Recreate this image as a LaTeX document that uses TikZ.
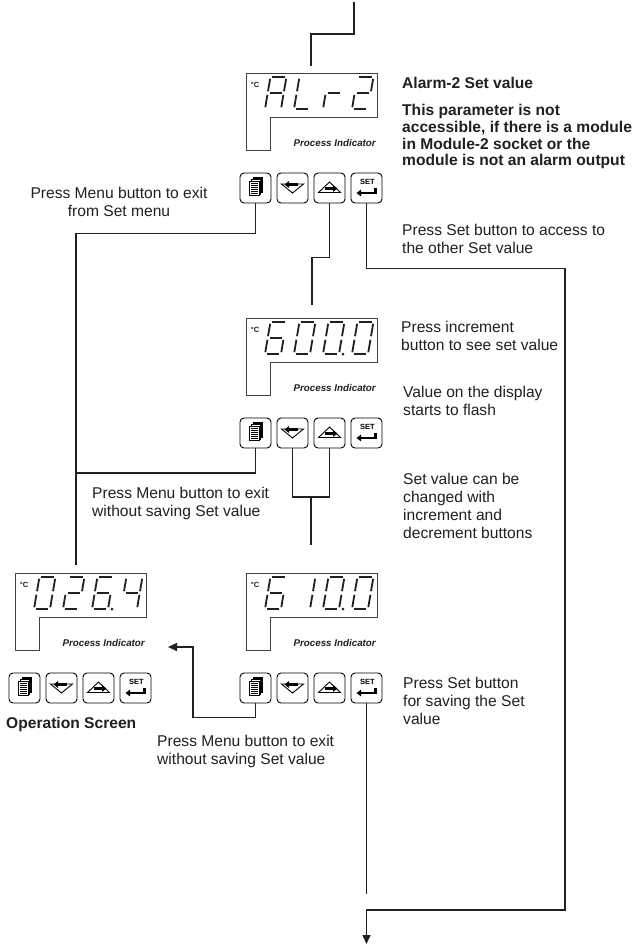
\documentclass[tikz,border=0pt]{standalone}
\usepackage{fontspec}
\setmainfont{Liberation Sans}
\usetikzlibrary{arrows.meta,calc}
\definecolor{ink}{HTML}{231F20}

\tikzset{
  conn/.style={draw=ink, line width=1.5pt},
  arr/.style={conn, -{Triangle[length=9pt,width=8pt]}},
  btn/.style={draw=black, line width=0.9pt, rounded corners=4pt, minimum width=31pt, minimum height=30pt, inner sep=0pt},
  dispbox/.style={inner sep=0pt, minimum width=131pt, minimum height=77pt},
  displine/.style={draw=ink!85, line width=0.9pt},
  segline/.style={draw=ink, line width=1.8pt},
  txt/.style={text=ink, font=\fontsize{15.6}{18}\selectfont, inner sep=0pt, align=left, anchor=north west},
  btxt/.style={txt, font=\fontsize{15.6}{16.8}\selectfont\bfseries},
  settxt/.style={text=black, font=\fontsize{7.5}{7.5}\selectfont\bfseries, inner sep=0pt},
  pitxt/.style={text=ink, font=\fontsize{9.8}{10}\selectfont\bfseries\itshape, inner sep=0pt, anchor=east},
  degtxt/.style={text=ink, font=\fontsize{7.5}{7.5}\selectfont\bfseries, inner sep=0pt},
  iconarrow/.style={draw=black, line width=2.4pt, -{Triangle[length=4.5pt,width=6.5pt]}},
}

% seven segment parts (local: origin bottom-left, y downward)
\newcommand\mysega{\draw[segline] (1.8,-32) -- (14.2,-32);}
\newcommand\mysegb{\draw[segline] (16,-30.2) -- (16,-17.8);}
\newcommand\mysegc{\draw[segline] (16,-14.2) -- (16,-1.8);}
\newcommand\mysegd{\draw[segline] (1.8,0) -- (14.2,0);}
\newcommand\mysege{\draw[segline] (0,-1.8) -- (0,-14.2);}
\newcommand\mysegf{\draw[segline] (0,-17.8) -- (0,-30.2);}
\newcommand\mysegg{\draw[segline] (1.8,-16) -- (14.2,-16);}
\newcommand\sevdig[3]{\begin{scope}[shift={(#1,#2)},xslant=0.17]\foreach \s in {#3}{\csname myseg\s\endcsname}\end{scope}}

\newcommand\dispunit[3]{%
  \node[dispbox, anchor=north west] (#1) at (#2,#3) {};
  \draw[displine] (#2,#3) -- ++(131,0) -- ++(0,44) -- ++(-107,0) -- ++(0,33) -- ++(-24,0) -- cycle;
  \node[degtxt] (#1deg) at (#2+9,#3+12) {°C};
  \node[pitxt] (#1pi) at (#2+130,#3+70) {Process Indicator};
}

\newcommand\menuicon{%
  \draw[black, line width=1pt, fill=black] (-2.3,-10.3) rectangle (7.2,4.2);
  \draw[black, line width=1pt, fill=white] (-4.1,-8.5) rectangle (5.4,6);
  \draw[black, line width=1pt, fill=white] (-5.9,-6.7) rectangle (3.6,7.8);
  \foreach \yy in {-4.6,-2.6,...,6.6} \draw[black, line width=1.3pt] (-4.6,\yy) -- (2.3,\yy);
}
\newcommand\downicon{%
  \draw[black, line width=0.9pt] (-11,-4) -- (11,-4) -- (0,5) -- cycle;
  \draw[iconarrow] (5,-3.5) -- (-8,-3.5);
}
\newcommand\upicon{%
  \draw[black, line width=0.9pt] (-11,4.5) -- (11,4.5) -- (0,-6) -- cycle;
  \draw[iconarrow] (-5,0.5) -- (8,0.5);
}
\newcommand\seticon{%
  \draw[iconarrow] (9,-0.5) -- (9,5) -- (-10,5);
}

\newcommand\btnrow[3]{%
  \node[btn] (#1m) at (#2+15.5,#3+15) {};
  \node[btn] (#1d) at (#2+52.5,#3+15) {};
  \node[btn] (#1u) at (#2+89.5,#3+15) {};
  \node[btn] (#1s) at (#2+126.5,#3+15) {};
  \begin{scope}[shift={(#1m.center)}]\menuicon\end{scope}
  \begin{scope}[shift={(#1d.center)}]\downicon\end{scope}
  \begin{scope}[shift={(#1u.center)}]\upicon\end{scope}
  \begin{scope}[shift={(#1s.center)}]\seticon\end{scope}
  \node[settxt] (#1lbl) at ($(#1s.center)+(1,-6.5)$) {SET};
}

\begin{document}
\begin{tikzpicture}[x=1pt,y=-1pt]
\fill[white] (0,0) rectangle (641,945);
\useasboundingbox (0,0) rectangle (641,945);

% ---------- displays ----------
\dispunit{dA}{246}{73}
\sevdig{265}{109}{a,b,c,e,f,g}
\sevdig{294}{109}{d,e,f}
\sevdig{323}{109}{e,g}
\sevdig{352}{109}{a,b,g,e,d}

\dispunit{dB}{246}{318}
\sevdig{265}{354}{a,f,g,e,d,c}
\sevdig{294}{354}{a,b,c,d,e,f}
\sevdig{323}{354}{a,b,c,d,e,f}
\sevdig{352}{354}{a,b,c,d,e,f}
\fill[ink] (343,354) circle (1.5);

\dispunit{dC}{246}{573}
\sevdig{265}{609}{a,f,g,e,d,c}
\sevdig{294}{609}{b,c}
\sevdig{323}{609}{a,b,c,d,e,f}
\sevdig{352}{609}{a,b,c,d,e,f}
\fill[ink] (343,609) circle (1.5);

\dispunit{dD}{15}{573}
\sevdig{34}{609}{a,b,c,d,e,f}
\sevdig{63}{609}{a,b,g,e,d}
\sevdig{92}{609}{a,f,g,e,d,c}
\sevdig{121}{609}{f,g,b,c}
\fill[ink] (112,609) circle (1.5);

% ---------- buttons ----------
\btnrow{a}{240}{173}
\btnrow{b}{240}{418}
\btnrow{c}{240}{673}
\btnrow{d}{9}{673}

% ---------- connectors ----------
\coordinate (topin) at (354,2);
\coordinate (d1in) at (311,66);
\draw[conn] (topin) -- ++(0,32) -| (d1in);

\coordinate (d4in) at (76,565);
\draw[conn] (am.south) -- ++(0,30) -| (d4in);

\coordinate (d2in) at (312,305);
\draw[conn] (au.south) -- ++(0,54) -| (d2in);

\coordinate (rc) at (565,910);
\coordinate (out) at (366.5,944);
\draw[arr] (as.south) -- ++(0,65) -| (rc) -| (out);

\coordinate (j2) at (76,473);
\draw[conn] (bm.south) |- (j2);

\coordinate (brm) at (311,497);
\coordinate (d3in) at (311,545);
\draw[conn] (bd.south) |- (brm) -| (bu.south);
\draw[conn] (brm) -- (d3in);

\coordinate (rcorner) at (193,647);
\coordinate (d4ret) at (168,647);
\draw[arr] (cm.south) -- ++(0,14) -| (rcorner) -- (d4ret);

\coordinate (cend) at (366.5,894);
\draw[conn] (cs.south) -- (cend);

% ---------- texts ----------
\node[btxt] (t1) at (402,77) {Alarm-2 Set value};
\node[btxt] (t2) at (402,104) {This parameter is not\\accessible, if there is a module\\in Module-2 socket or the\\module is not an alarm output};
\node[txt] (t3) at (402,224) {Press Set button to access to\\the other Set value};
\node[txt, align=center, anchor=north] (t4) at (119,187) {Press Menu button to exit\\from Set menu};
\node[txt] (t5) at (401,321) {Press increment\\button to see set value};
\node[txt] (t6) at (403,386) {Value on the display\\starts to flash};
\node[txt] (t7) at (403,473) {Set value can be\\changed with\\increment and\\decrement buttons};
\node[txt] (t8) at (92,487) {Press Menu button to exit\\without saving Set value};
\node[btxt] (t9) at (6,717) {Operation Screen};
\node[txt] (t10) at (157,735) {Press Menu button to exit\\without saving Set value};
\node[txt] (t11) at (403,677) {Press Set button\\for saving the Set\\value};
\end{tikzpicture}
\end{document}
